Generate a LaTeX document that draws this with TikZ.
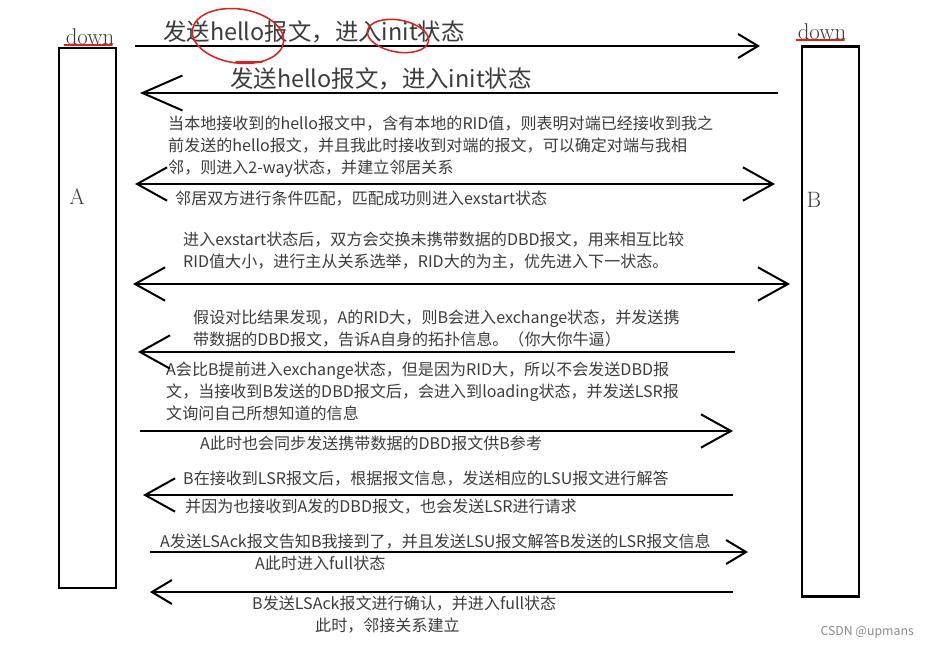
\documentclass[tikz,border=0pt]{standalone}
\usepackage{fontspec}
\usepackage{xcolor}
\usepackage{tikz}
\usetikzlibrary{arrows.meta,positioning,shapes.geometric}
\newfontfamily\cjk{Noto Sans CJK SC}
\definecolor{ink}{HTML}{3C3C3C}
\definecolor{scribble}{HTML}{E01E1E}
\definecolor{wmark}{HTML}{8A8A8A}
\tikzset{
  barbS/.tip={Straight Barb[length=0.6cm,width=0.72cm]},
  barbM/.tip={Straight Barb[length=0.9cm,width=1.0cm]},
  barbL/.tip={Straight Barb[length=1.2cm,width=1.05cm]}
}

\begin{document}
\begin{tikzpicture}[x=0.03cm, y=-0.03cm,
  peer/.style={draw=black, line width=2.1pt, minimum width=1.7cm, inner sep=0pt},
  state/.style={font=\fontsize{19.5}{22}\selectfont, text=ink, inner sep=0pt},
  peername/.style={font=\fontsize{19}{22}\selectfont, text=ink, inner sep=0pt},
  title/.style={font=\cjk\fontsize{20}{24}\selectfont, text=ink, anchor=west, inner sep=0pt},
  note/.style={font=\cjk\fontsize{13.7}{18.8}\selectfont, text=ink, align=left,
    anchor=west, inner sep=0pt},
  msg/.style={line width=1.7pt, draw=black},
  redpen/.style={draw=scribble, line width=1.3pt, line cap=round}
]
\useasboundingbox (0,0) rectangle (929,647);
% routers
\node[peer, minimum height=16.2cm] (boxA) at (87.5,318) {};
\node[peer, minimum height=16.5cm] (boxB) at (830.5,321.5) {};
\node[state] (downA) at (90,37) {down};
\node[state] (downB) at (822,32) {down};
\node[peername] (nameA) at (77,197) {A};
\node[peername] (nameB) at (814,200) {B};
\draw[redpen] ([xshift=-1pt]downA.south west) -- ([xshift=-2pt]downA.south east);
\draw[redpen] ([xshift=-1pt]downB.south west) -- ([xshift=-2pt]downB.south east);
% message ends
\foreach \i/\xa/\xb/\y in {1/135/760/46, 2/140/778/93, 3/135/775/184, 4/133/790/284,
    5/138/735/352, 6/140/733/431, 7/143/733/495, 8/150/748/552, 9/150/733/592}
  {\coordinate (l\i) at (\xa,\y); \coordinate (r\i) at (\xb,\y);}
% texts
\node[title] (t1) at (163,32) {发送hello报文，进入init状态};
\node[title] (t2) at (230,79) {发送hello报文，进入init状态};
\node[note] (n1) at (168,146.5) {当本地接收到的hello报文中，含有本地的RID值，则表明对端已经接收到我之\\前发送的hello报文，并且我此时接收到对端的报文，可以确定对端与我相\\邻，则进入2-way状态，并建立邻居关系};
\node[note] (n2) at (175,199) {邻居双方进行条件匹配，匹配成功则进入exstart状态};
\node[note] (n3) at (183,251) {进入exstart状态后，双方会交换未携带数据的DBD报文，用来相互比较\\RID值大小，进行主从关系选举，RID大的为主，优先进入下一状态。};
\node[note] (n4) at (193,329) {假设对比结果发现，A的RID大，则B会进入exchange状态，并发送携\\带数据的DBD报文，告诉A自身的拓扑信息。（你大你牛逼）};
\node[note] (n5) at (166,391.5) {A会比B提前进入exchange状态，但是因为RID大，所以不会发送DBD报\\文，当接收到B发送的DBD报文后，会进入到loading状态，并发送LSR报\\文询问自己所想知道的信息};
\node[note] (n6) at (200,443) {A此时也会同步发送携带数据的DBD报文供B参考};
\node[note] (n7) at (183,479) {B在接收到LSR报文后，根据报文信息，发送相应的LSU报文进行解答};
\node[note] (n8) at (185,507) {并因为也接收到A发的DBD报文，也会发送LSR进行请求};
\node[note] (n9) at (160,542) {A发送LSAck报文告知B我接到了，并且发送LSU报文解答B发送的LSR报文信息};
\node[note] (n10) at (255,563) {A此时进入full状态};
\node[note] (n11) at (252,604) {B发送LSAck报文进行确认，并进入full状态};
\node[note] (n12) at (315,626) {此时，邻接关系建立};
\node[font=\cjk\fontsize{10.5}{12}\selectfont, text=wmark, anchor=east, inner sep=0pt]
  (wm) at (914,632) {CSDN @upmans};
% messages
\draw[msg, -barbS] (l1) -- (r1);
\draw[msg, -barbL] (r2) -- (l2);
\draw[msg, barbM-barbM] (l3) -- (r3);
\draw[msg, barbM-barbM] (l4) -- (r4);
\draw[msg, -barbM] (r5) -- (l5);
\draw[msg, -barbM] (l6) -- (r6);
\draw[msg, -barbM] (r7) -- (l7);
\draw[msg, -barbS] (l8) -- (r8);
\draw[msg, -barbS] (r9) -- (l9);
% red circles on the first message
\draw[redpen, rotate around={-8:(238,36)}] (238,36) ellipse (46 and 27);
\draw[redpen] (236,62) -- (262,62);
\draw[redpen, rotate around={-10:(398,36)}] (398,36) ellipse (31 and 16);
\end{tikzpicture}
\end{document}
